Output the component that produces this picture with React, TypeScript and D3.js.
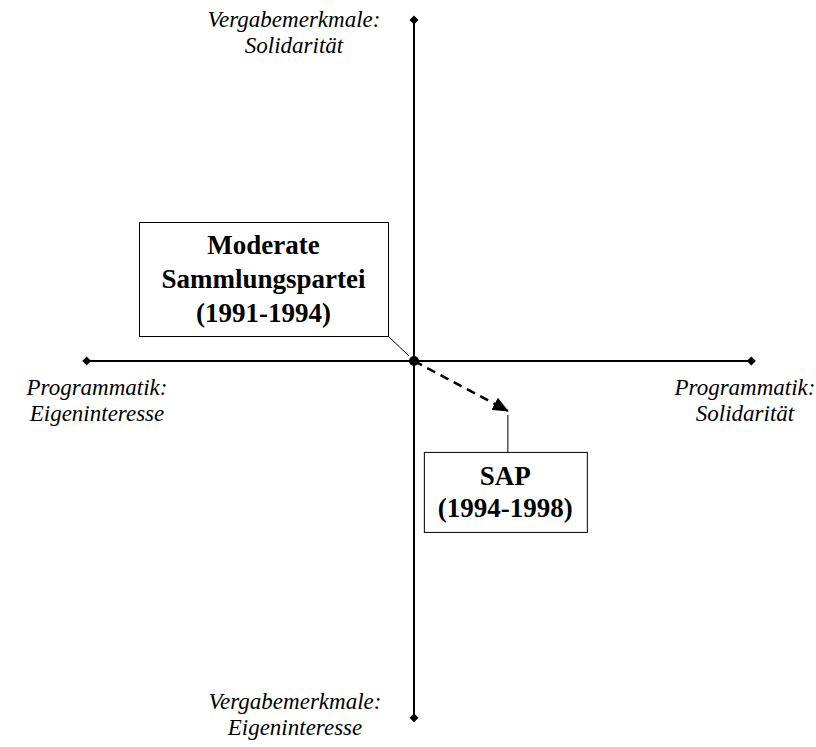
import React, { useEffect, useRef } from 'react';
import * as d3 from 'd3';

// axis extents in concept space (left/right = Programmatik, bottom/top = Vergabemerkmale)
const axisX = [-0.98, 1.01];
const axisY = [-1.008, 0.963];

// party positions
const parties = [
  { name: 'Moderate Sammlungspartei', period: '1991-1994', x: 0, y: 0 },
  { name: 'SAP', period: '1994-1998', x: 0.281, y: -0.141 },
];

const boxLines = [
  ['Moderate', 'Sammlungspartei', '(1991-1994)'],
  ['SAP', '(1994-1998)'],
];

const poleLabels = [
  { lines: ['Vergabemerkmale:', 'Solidarität'], pos: 'top' },
  { lines: ['Vergabemerkmale:', 'Eigeninteresse'], pos: 'bottom' },
  { lines: ['Programmatik:', 'Eigeninteresse'], pos: 'left' },
  { lines: ['Programmatik:', 'Solidarität'], pos: 'right' },
];

const FONT = '"Liberation Serif", "Times New Roman", serif';

function PartyMap() {
  const ref = useRef<SVGSVGElement>(null);

  useEffect(() => {
    const svg = d3.select(ref.current);
    svg.selectAll('*').remove();

    const width = 816;
    const height = 747;

    const x = d3.scaleLinear().domain([-1, 1]).range([80, 748]);
    const y = d3.scaleLinear().domain([-1, 1]).range([715, 7]);

    svg.attr('width', width).attr('height', height);

    const defs = svg.append('defs');
    defs
      .append('marker')
      .attr('id', 'diamond')
      .attr('viewBox', '-5 -5 10 10')
      .attr('markerWidth', 10)
      .attr('markerHeight', 10)
      .attr('markerUnits', 'userSpaceOnUse')
      .append('path')
      .attr('d', 'M0,-4.5L4.5,0L0,4.5L-4.5,0Z')
      .attr('fill', '#000');
    defs
      .append('marker')
      .attr('id', 'arrow')
      .attr('viewBox', '0 -7 16 14')
      .attr('refX', 15)
      .attr('markerWidth', 16)
      .attr('markerHeight', 14)
      .attr('markerUnits', 'userSpaceOnUse')
      .attr('orient', 'auto')
      .append('path')
      .attr('d', 'M0,-7L16,0L0,7Z')
      .attr('fill', '#000');

    // axes
    const axes = svg.append('g').attr('stroke', '#000').attr('stroke-width', 2);
    axes
      .append('line')
      .attr('x1', x(axisX[0]))
      .attr('x2', x(axisX[1]))
      .attr('y1', y(0))
      .attr('y2', y(0))
      .attr('marker-start', 'url(#diamond)')
      .attr('marker-end', 'url(#diamond)');
    axes
      .append('line')
      .attr('x1', x(0))
      .attr('x2', x(0))
      .attr('y1', y(axisY[0]))
      .attr('y2', y(axisY[1]))
      .attr('marker-start', 'url(#diamond)')
      .attr('marker-end', 'url(#diamond)');

    // pole labels
    const labelPos: Record<string, [number, number]> = {
      top: [294, 27],
      bottom: [295, 709],
      left: [97, 395],
      right: [745, 395],
    };
    poleLabels.forEach((p) => {
      const [lx, ly] = labelPos[p.pos];
      const t = svg
        .append('text')
        .attr('text-anchor', 'middle')
        .attr('font-family', FONT)
        .attr('font-style', 'italic')
        .attr('font-size', 23)
        .attr('fill', '#000');
      p.lines.forEach((line, i) => {
        t.append('tspan').attr('x', lx).attr('y', ly + i * 26).text(line);
      });
    });

    const [from, to] = parties;

    // movement arrow
    svg
      .append('line')
      .attr('x1', x(from.x))
      .attr('y1', y(from.y))
      .attr('x2', x(to.x))
      .attr('y2', y(to.y))
      .attr('stroke', '#000')
      .attr('stroke-width', 2.5)
      .attr('stroke-dasharray', '9,6')
      .attr('marker-end', 'url(#arrow)');

    svg
      .append('circle')
      .attr('cx', x(from.x))
      .attr('cy', y(from.y))
      .attr('r', 5)
      .attr('fill', '#000');

    // callout boxes
    const boxes = [
      { x0: x(from.x) - 275, y0: y(from.y) - 139, w: 249, h: 114, lineH: 34, base: 32, fs: 27,
        lead: [[x(from.x) - 26, y(from.y) - 25], [x(from.x) - 5, y(from.y) - 5]] },
      { x0: x(to.x) - 84, y0: y(to.y) + 41, w: 163, h: 80, lineH: 32, base: 33, fs: 27,
        lead: [[x(to.x), y(to.y) + 4], [x(to.x), y(to.y) + 41]] },
    ];

    boxes.forEach((b, i) => {
      svg
        .append('line')
        .attr('x1', b.lead[0][0])
        .attr('y1', b.lead[0][1])
        .attr('x2', b.lead[1][0])
        .attr('y2', b.lead[1][1])
        .attr('stroke', '#000')
        .attr('stroke-width', 1);
      svg
        .append('rect')
        .attr('x', b.x0 + 0.5)
        .attr('y', b.y0 + 0.5)
        .attr('width', b.w)
        .attr('height', b.h)
        .attr('fill', '#fff')
        .attr('stroke', '#000')
        .attr('stroke-width', 1);
      const t = svg
        .append('text')
        .attr('text-anchor', 'middle')
        .attr('font-family', FONT)
        .attr('font-weight', 'bold')
        .attr('font-size', b.fs)
        .attr('fill', '#000');
      boxLines[i].forEach((line, j) => {
        t.append('tspan')
          .attr('x', b.x0 + b.w / 2)
          .attr('y', b.y0 + b.base + j * b.lineH)
          .text(line);
      });
    });
  }, []);

  return <svg ref={ref} style={{ position: 'absolute', left: 0, top: 0 }}></svg>;
}

export default function App() {
  return <PartyMap />;
}
